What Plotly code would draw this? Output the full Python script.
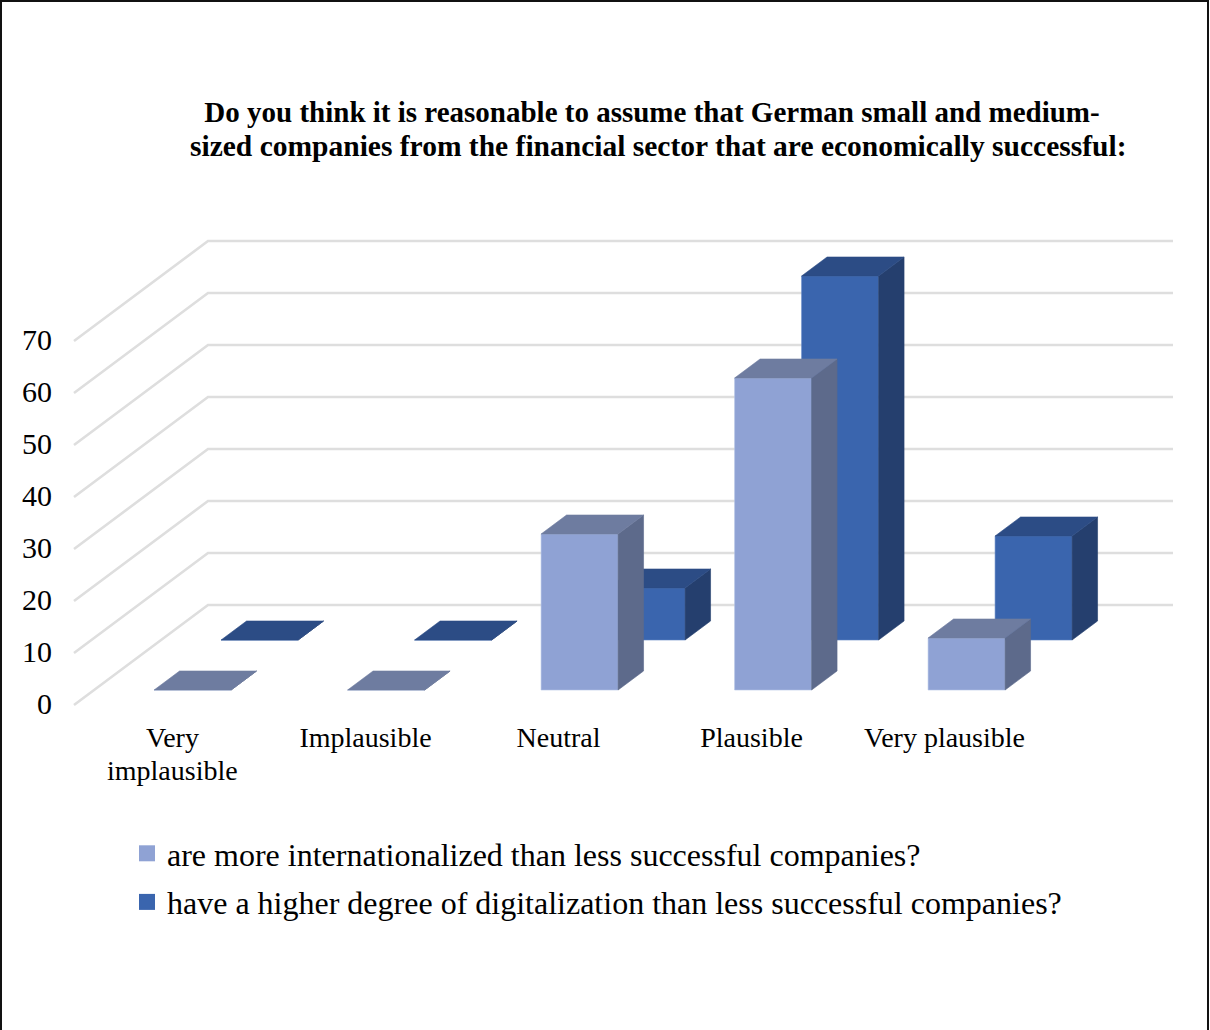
import plotly.graph_objects as go

# Survey responses per answer category
categories = ["Very", "Implausible", "Neutral", "Plausible", "Very plausible"]
category_second_lines = ["implausible", "", "", "", ""]
internationalized = [0, 0, 30, 60, 10]
digitalized = [0, 0, 10, 70, 20]
grid_values = [0, 10, 20, 30, 40, 50, 60, 70]

series_names = [
    "are more internationalized than less successful companies?",
    "have a higher degree of digitalization than less successful companies?",
]
title_line_1 = "Do you think it is reasonable to assume that German small and medium-"
title_line_2 = "sized companies from the financial sector that are economically successful:"

WIDTH, HEIGHT = 1210, 1030
FONT = "Liberation Serif"

# Plot area in pixels and the scale of both axes
LEFT, RIGHT, TOP, BOTTOM = 53, 1190, 225, 718
PX_PER_CAT = 193.5
PX_PER_VAL = 5.2
CAT0_PX = 172.5
ZERO_PX = 705
LABEL_STEP = 193 / PX_PER_CAT

# Oblique projection: a point at depth 1 moves this far along each axis
DEPTH_X = 134 / PX_PER_CAT
DEPTH_Y = 100 / PX_PER_VAL

BAR_HALF = 38.5 / PX_PER_CAT
GRID_LEFT = (74 - CAT0_PX) / PX_PER_CAT
GRID_RIGHT = (1173 - CAT0_PX - 134) / PX_PER_CAT


def project(cat, val, depth):
    return cat + depth * DEPTH_X, val + depth * DEPTH_Y


def paper_x(px):
    return (px - LEFT) / (RIGHT - LEFT)


def paper_y(px):
    return (BOTTOM - px) / (BOTTOM - TOP)


def polygons(faces):
    xs, ys = [], []
    for face in faces:
        pts = [project(*p) for p in face]
        pts.append(pts[0])
        xs += [p[0] for p in pts] + [None]
        ys += [p[1] for p in pts] + [None]
    return xs, ys


def bar_faces(values, d0, d1):
    front, side, top = [], [], []
    for i, v in enumerate(values):
        l, r = i - BAR_HALF, i + BAR_HALF
        front.append([(l, 0, d0), (r, 0, d0), (r, v, d0), (l, v, d0)])
        side.append([(r, 0, d0), (r, 0, d1), (r, v, d1), (r, v, d0)])
        top.append([(l, v, d0), (r, v, d0), (r, v, d1), (l, v, d1)])
    return front, side, top


fig = go.Figure()

# Floor edge, side wall and back wall grid lines
for v in grid_values:
    a = project(GRID_LEFT, v, 0)
    b = project(GRID_LEFT, v, 1)
    c = project(GRID_RIGHT, v, 1)
    fig.add_trace(go.Scatter(
        x=[a[0], b[0], c[0]], y=[a[1], b[1], c[1]], mode="lines",
        line=dict(color="#dedede", width=2.6), showlegend=False, hoverinfo="skip",
    ))

# Back row first so the front row paints over it
rows = [
    (digitalized, 0.65, 0.84, "#3a65ae", "#253f6e", "#2c4c85", "#5f84c4"),
    (internationalized, 0.15, 0.34, "#8fa2d4", "#5d6a8b", "#6e7ca0", "#b4c2e4"),
]
for values, d0, d1, c_front, c_side, c_top, c_edge in rows:
    front, side, top = bar_faces(values, d0, d1)
    for faces, colour, edge in ((front, c_front, c_edge), (side, c_side, c_side), (top, c_top, c_top)):
        xs, ys = polygons(faces)
        fig.add_trace(go.Scatter(
            x=xs, y=ys, mode="lines", fill="toself", fillcolor=colour,
            line=dict(color=edge, width=0.6), showlegend=False, hoverinfo="skip",
        ))

# Legend entries
for k, (name, colour) in enumerate(zip(series_names, ["#8fa2d4", "#3a65ae"])):
    fig.add_trace(go.Scatter(
        x=[None], y=[None], mode="markers", name=name, legendgroup=str(k),
        marker=dict(symbol="square", size=16, color=colour),
    ))

tick_positions = [i * LABEL_STEP for i in range(len(categories))]

annotations = [
    dict(text=title_line_2, xref="paper", yref="paper", x=paper_x(657.5), y=paper_y(146),
         xanchor="center", yanchor="middle", showarrow=False,
         font=dict(family=FONT, size=29.5, color="black", weight="bold")),
]
for pos, line in zip(tick_positions, category_second_lines):
    if line:
        annotations.append(dict(
            text=line, xref="x", yref="paper", x=pos, y=paper_y(770),
            xanchor="center", yanchor="middle", showarrow=False,
            font=dict(family=FONT, size=28, color="black"),
        ))

fig.update_layout(
    width=WIDTH, height=HEIGHT, autosize=False,
    margin=dict(l=LEFT, r=WIDTH - RIGHT, t=TOP, b=HEIGHT - BOTTOM),
    paper_bgcolor="white", plot_bgcolor="white",
    font=dict(family=FONT, color="black", size=28),
    title=dict(
        text=title_line_1, x=652 / WIDTH, xref="container", xanchor="center",
        y=1 - 112 / HEIGHT, yanchor="middle",
        font=dict(family=FONT, size=29, color="black", weight="bold"),
    ),
    xaxis=dict(
        range=[(LEFT - CAT0_PX) / PX_PER_CAT, (RIGHT - CAT0_PX) / PX_PER_CAT],
        tickmode="array", tickvals=tick_positions, ticktext=categories,
        showgrid=False, zeroline=False, showline=False, ticks="",
        tickfont=dict(family=FONT, size=28, color="black"), tickangle=0,
    ),
    yaxis=dict(
        range=[(ZERO_PX - BOTTOM) / PX_PER_VAL, (ZERO_PX - TOP) / PX_PER_VAL],
        tickmode="array", tickvals=grid_values, ticktext=[str(v) for v in grid_values],
        showgrid=False, zeroline=False, showline=False, ticks="",
        tickfont=dict(family=FONT, size=30, color="black"),
        ticklabelshift=-2,
    ),
    legend=dict(
        x=paper_x(127), xanchor="left",
        y=paper_y(826), yanchor="top",
        font=dict(family=FONT, size=32, color="black"), itemwidth=30,
        traceorder="grouped", tracegroupgap=4,
        bgcolor="rgba(0,0,0,0)", borderwidth=0,
    ),
    annotations=annotations,
    shapes=[
        # Black frame on the left, top and right edges of the page
        dict(type="path", xref="paper", yref="paper", layer="above",
             path="M {:.5f} {:.5f} L {:.5f} {:.5f} L {:.5f} {:.5f} L {:.5f} {:.5f}".format(
                 paper_x(1), paper_y(1030),
                 paper_x(1), paper_y(1),
                 paper_x(1208), paper_y(1),
                 paper_x(1208), paper_y(1030)),
             line=dict(color="#111111", width=2)),
    ],
)

fig.write_html("out.html")
